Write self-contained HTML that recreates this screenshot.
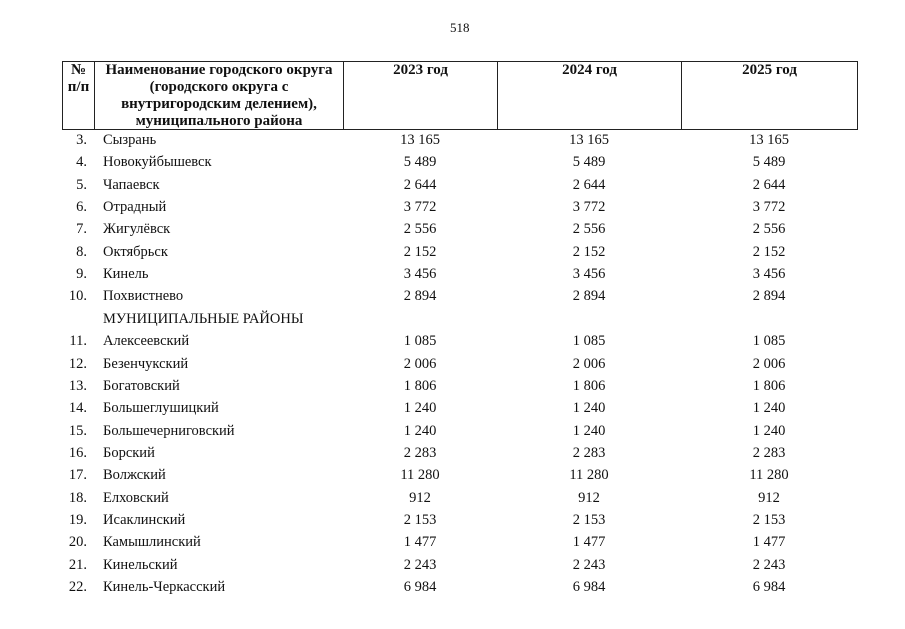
<!DOCTYPE html>
<html><head><meta charset="utf-8"><style>
body{margin:0;width:905px;height:629px;background:#fff;position:relative;overflow:hidden;font-family:"Liberation Serif",serif;color:#111}
.a{position:absolute;white-space:nowrap}
.h{font-weight:bold;font-size:15px;line-height:17px;text-align:center;position:absolute;white-space:nowrap}
.r{position:absolute;font-size:14.5px;line-height:17px}
.n{position:absolute;width:30px;text-align:right;left:57px}
.t{position:absolute;left:103px}
.v{position:absolute;width:120px;text-align:center}
.vl{position:absolute;top:61px;height:68px;width:1px;background:#222}
</style></head><body>
<div class="a" style="left:450px;top:20px;font-size:13px">518</div>
<div style="position:absolute;left:62px;top:61px;width:794px;height:67px;border:1px solid #222"></div>
<div class="vl" style="left:94px"></div>
<div class="vl" style="left:343px"></div>
<div class="vl" style="left:497px"></div>
<div class="vl" style="left:681px"></div>
<div class="h" style="left:63px;width:31px;top:62px">№<br>п/п</div>
<div class="h" style="left:95px;width:248px;top:62px">Наименование городского округа<br>(городского округа с<br>внутригородским делением),<br>муниципального района</div>
<div class="h" style="left:344px;width:153px;top:62px">2023 год</div>
<div class="h" style="left:498px;width:183px;top:62px">2024 год</div>
<div class="h" style="left:682px;width:175px;top:62px">2025 год</div>
<div id="rows"></div>
<script>
var d=[["3.","Сызрань","13 165"],["4.","Новокуйбышевск","5 489"],["5.","Чапаевск","2 644"],["6.","Отрадный","3 772"],["7.","Жигулёвск","2 556"],["8.","Октябрьск","2 152"],["9.","Кинель","3 456"],["10.","Похвистнево","2 894"],["","МУНИЦИПАЛЬНЫЕ РАЙОНЫ",""],["11.","Алексеевский","1 085"],["12.","Безенчукский","2 006"],["13.","Богатовский","1 806"],["14.","Большеглушицкий","1 240"],["15.","Большечерниговский","1 240"],["16.","Борский","2 283"],["17.","Волжский","11 280"],["18.","Елховский","912"],["19.","Исаклинский","2 153"],["20.","Камышлинский","1 477"],["21.","Кинельский","2 243"],["22.","Кинель-Черкасский","6 984"]];
var h="";d.forEach(function(r,i){var y=132+i*22.35;
h+='<div class="r" style="top:'+y+'px;left:0;width:905px"><span class="n">'+r[0]+'</span><span class="t">'+r[1]+'</span>'+
(r[2]?'<span class="v" style="left:360px">'+r[2]+'</span><span class="v" style="left:529px">'+r[2]+'</span><span class="v" style="left:709px">'+r[2]+'</span>':'')+'</div>';});
document.getElementById("rows").innerHTML=h;
</script>
</body></html>
